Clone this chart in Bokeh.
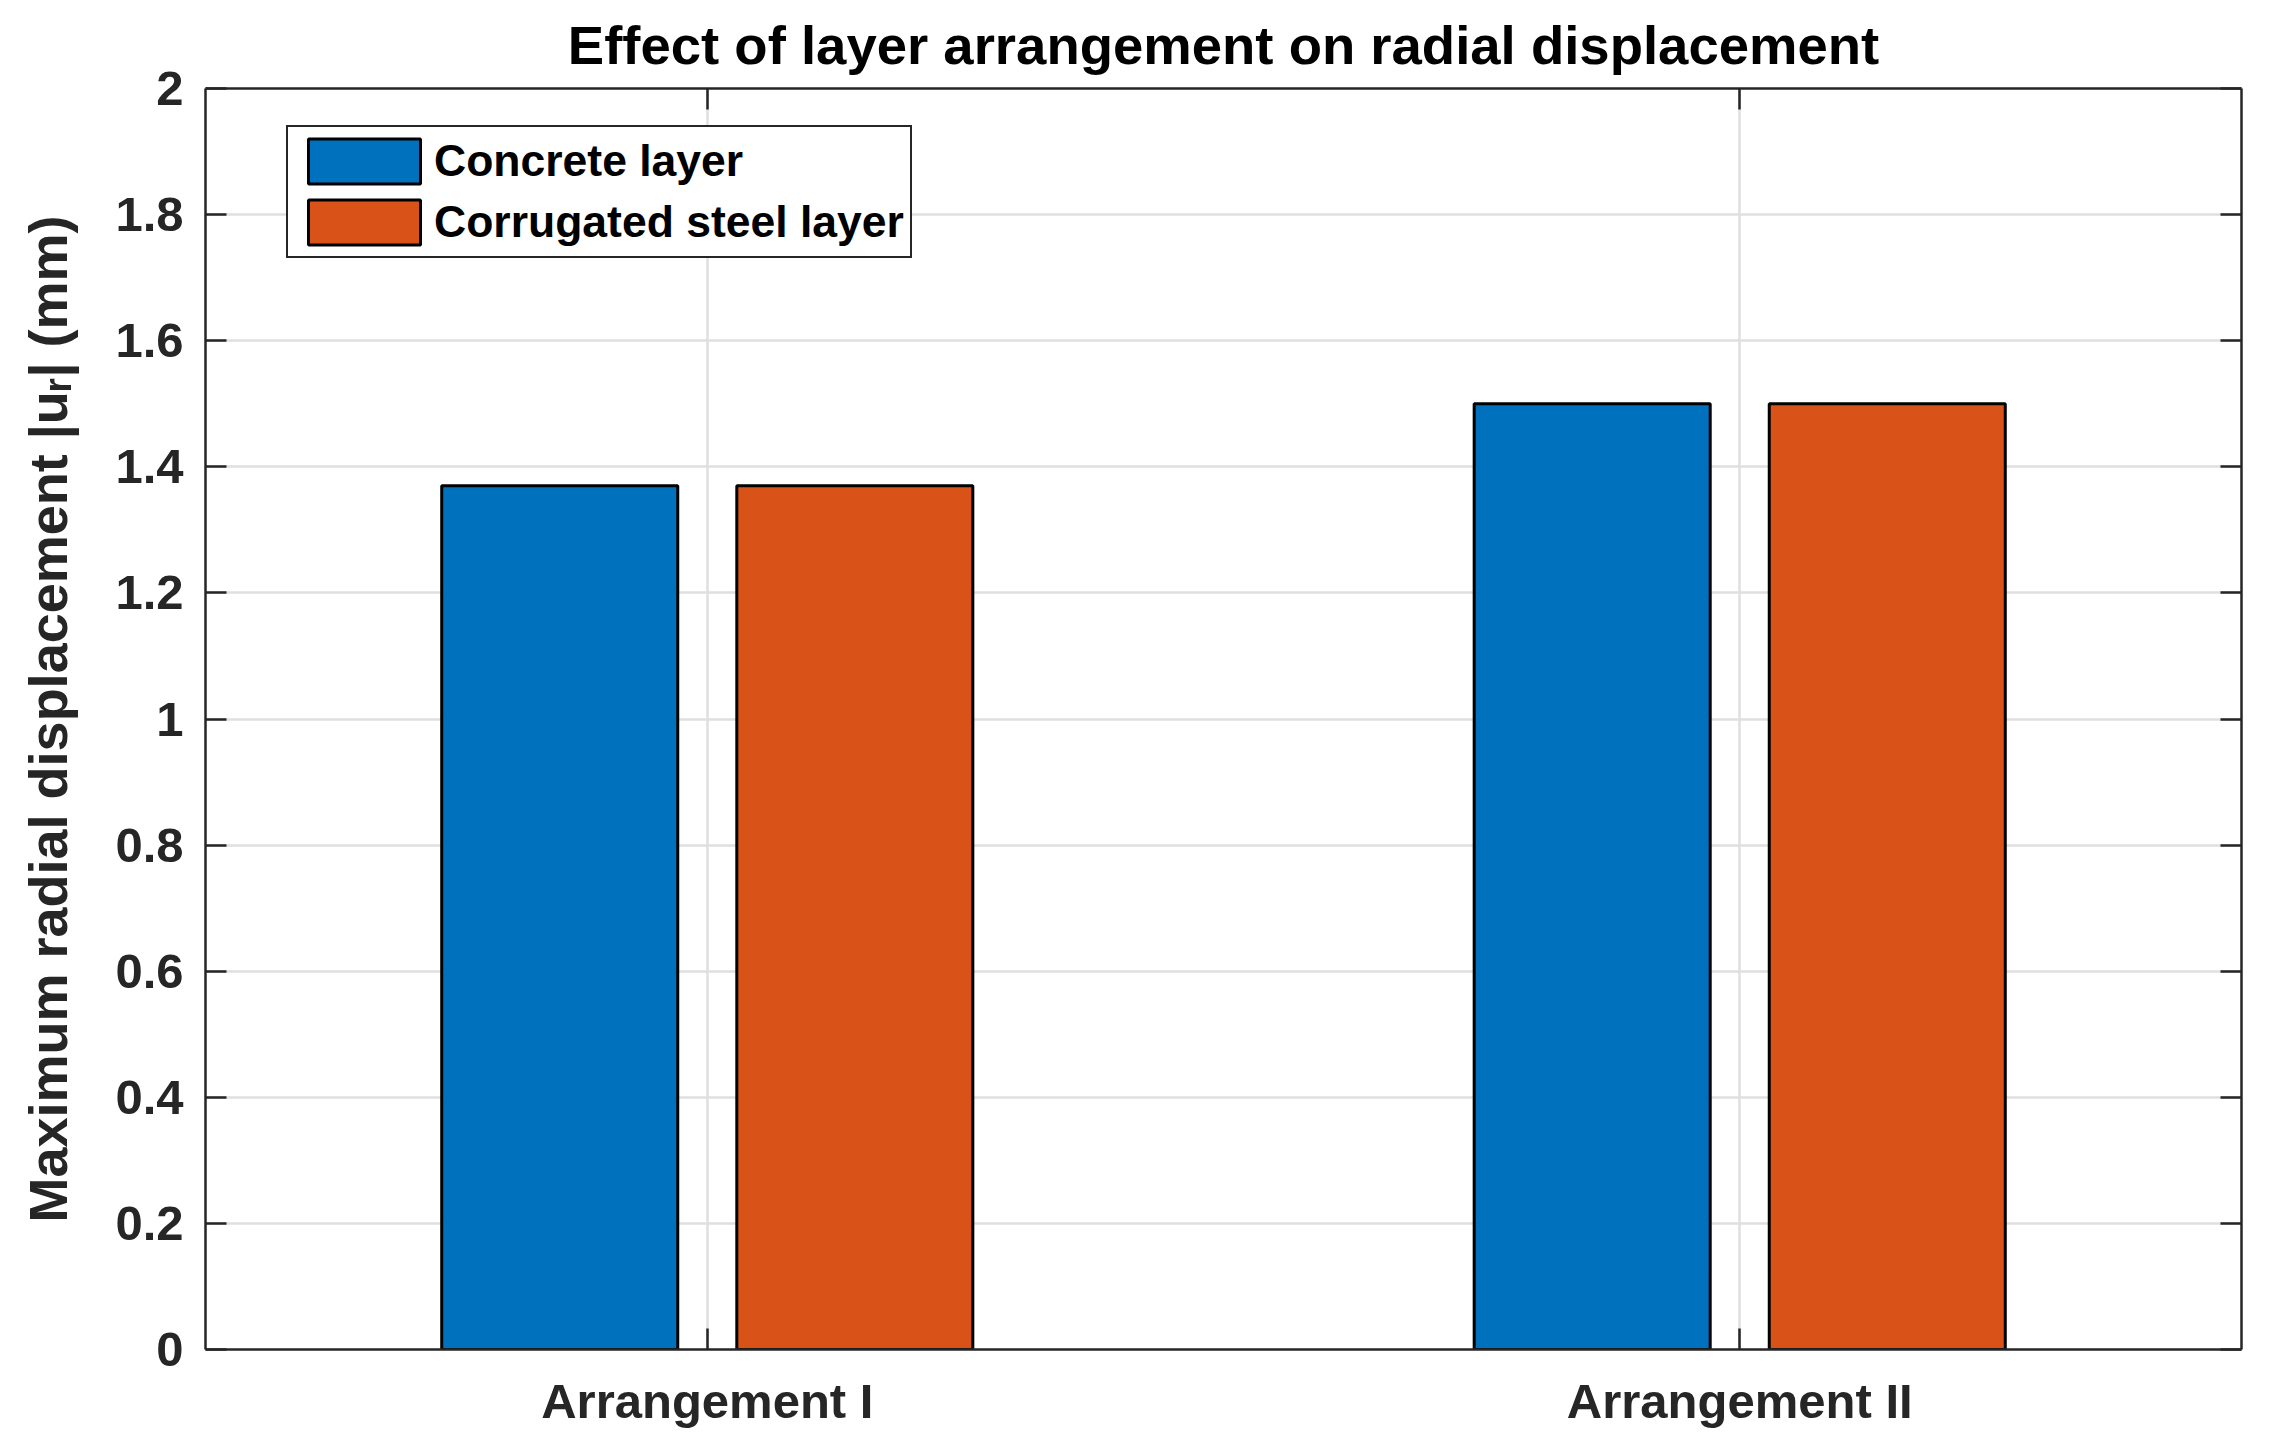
from bokeh.plotting import figure
from bokeh.models import (ColumnDataSource, Range1d, FixedTicker, LinearAxis,
                          CustomJSTickFormatter, Title, CustomLabelingPolicy)
from bokeh.transform import dodge
from bokeh.embed import file_html
from bokeh.resources import INLINE

# ---- data ----
categories = ["Arrangement I", "Arrangement II"]
concrete = [1.37, 1.50]
steel = [1.37, 1.50]
y_ticks = [0, 0.2, 0.4, 0.6, 0.8, 1.0, 1.2, 1.4, 1.6, 1.8, 2.0]
series_names = ["Concrete layer", "Corrugated steel layer"]

x_pos = [i + 1 for i in range(len(categories))]
source = ColumnDataSource(dict(x=x_pos, concrete=concrete, steel=steel))

FONT = "Liberation Sans"
AX = "#262626"
GRID = "#dfdfdf"
LW = 2.5

p = figure(frame_width=2036, frame_height=1261,
           x_range=Range1d(0.514, 2.486), y_range=Range1d(0, 2),
           output_backend="svg", toolbar_location=None,
           min_border_left=205, min_border_top=88,
           min_border_right=15, min_border_bottom=90,
           background_fill_color="white", border_fill_color="white")
p.outline_line_color = None

p.title = Title(text="Effect of layer arrangement on radial displacement",
                align="center", text_font=FONT, text_font_size="54.5px",
                text_font_style="bold", text_color="black", standoff=18)

bw = 0.2286
off = 0.1429
p.vbar(x=dodge("x", -off, range=p.x_range), top="concrete", width=bw,
       source=source, fill_color="#0072BD", line_color="black",
       line_width=3, legend_label=series_names[0])
p.vbar(x=dodge("x", off, range=p.x_range), top="steel", width=bw,
       source=source, fill_color="#D95319", line_color="black",
       line_width=3, legend_label=series_names[1])

xt = FixedTicker(ticks=x_pos)
yt = FixedTicker(ticks=y_ticks)
yfmt = CustomJSTickFormatter(code="return Number(tick.toFixed(1)).toString();")
no_labels = CustomLabelingPolicy(code="return new indices.constructor(indices.size);")


def style_axis(ax, show_labels):
    ax.axis_line_color = AX
    ax.axis_line_width = LW
    ax.major_tick_line_color = AX
    ax.major_tick_line_width = LW
    ax.major_tick_in = 21
    ax.major_tick_out = 0
    ax.minor_tick_line_color = None
    if show_labels:
        ax.major_label_text_font = FONT
        ax.major_label_text_font_size = "49px"
        ax.major_label_text_font_style = "bold"
        ax.major_label_text_color = AX
    else:
        ax.major_label_policy = no_labels
        ax.major_label_text_font_size = "1px"
        ax.major_label_standoff = 0


xa = p.xaxis[0]
xa.ticker = xt
xa.major_label_overrides = {x: c for x, c in zip(x_pos, categories)}
style_axis(xa, True)
xa.major_label_standoff = 24

ya = p.yaxis[0]
ya.ticker = yt
ya.formatter = yfmt
style_axis(ya, True)
ya.major_label_standoff = 22
ya.axis_label = "Maximum radial displacement |u\u1d63| (mm)"
ya.axis_label_text_font = FONT
ya.axis_label_text_font_size = "54px"
ya.axis_label_text_font_style = "bold"
ya.axis_label_text_color = AX
ya.axis_label_standoff = 34

top_ax = LinearAxis(ticker=FixedTicker(ticks=x_pos))
style_axis(top_ax, False)
p.add_layout(top_ax, "above")

right_ax = LinearAxis(ticker=FixedTicker(ticks=y_ticks))
style_axis(right_ax, False)
p.add_layout(right_ax, "right")

p.xgrid.ticker = xt
p.ygrid.ticker = yt
for g in (p.xgrid[0], p.ygrid[0]):
    g.grid_line_color = GRID
    g.grid_line_width = LW

lg = p.legend[0]
lg.location = (81, 1091)
lg.padding = 6
lg.spacing = 5
lg.margin = 0
lg.glyph_height = 56
lg.glyph_width = 140
lg.label_height = 56
lg.label_standoff = -8
lg.label_text_font = FONT
lg.label_text_font_size = "44.5px"
lg.label_text_font_style = "bold"
lg.label_text_color = "black"
lg.border_line_color = AX
lg.border_line_width = LW
lg.border_line_alpha = 1.0
lg.background_fill_color = "white"
lg.background_fill_alpha = 1.0

open("out.html", "w").write(file_html(p, INLINE))
